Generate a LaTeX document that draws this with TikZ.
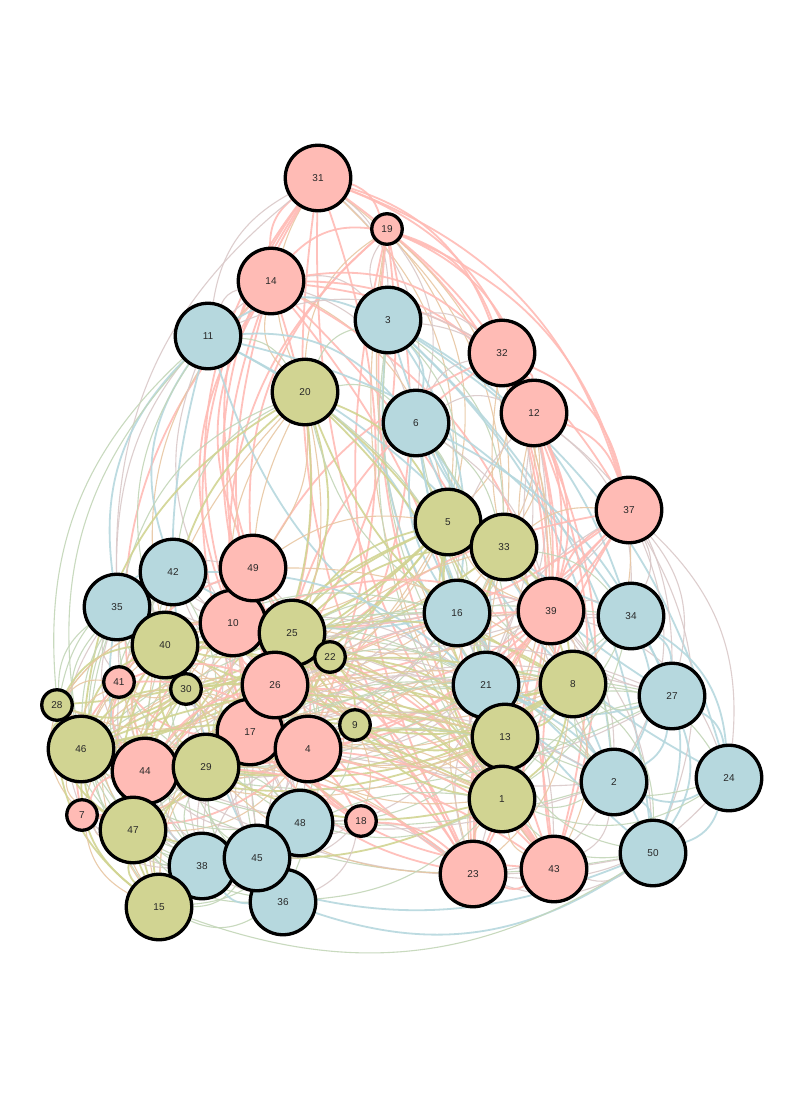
\documentclass[tikz,border=0pt]{standalone}
\usepackage{fontspec}
\newfontfamily\labfont{Liberation Sans}
\usetikzlibrary{backgrounds}
\definecolor{pk}{RGB}{255,187,181}
\definecolor{bl}{RGB}{182,216,222}
\definecolor{ol}{RGB}{209,212,146}
\definecolor{txt}{RGB}{40,40,40}
\tikzset{
  vtx/.style={circle, draw=black, line width=3.3pt, text=txt,
    font=\labfont\fontsize{10}{11}\selectfont, inner sep=0pt},
  bignode/.style={vtx, minimum size=65.5pt},
  smallnode/.style={vtx, minimum size=30.5pt},
  linkline/.style={draw opacity=0.9},
}
\newcommand\V[5]{%
  \node[#5, fill=#4] (n#1) at (#2,#3) {#1};%
  \expandafter\xdef\csname px#1\endcsname{#2}%
  \expandafter\xdef\csname py#1\endcsname{#3}%
  \expandafter\xdef\csname gp#1\endcsname{#4}%
}
\newcommand\E[2]{%
  \edef\exa{\csname px#1\endcsname}\edef\eya{\csname py#1\endcsname}%
  \edef\exb{\csname px#2\endcsname}\edef\eyb{\csname py#2\endcsname}%
  \pgfmathsetmacro\crs{(\exb-\exa)/100*((\eya+\eyb)/2-650)/100-(\eyb-\eya)/100*((\exa+\exb)/2-400)/100}%
  \pgfmathsetmacro\mdist{sqrt((((\exa+\exb)/2-400)/100)^2+(((\eya+\eyb)/2-650)/100)^2)}%
  \edef\ega{\csname gp#1\endcsname}\edef\egb{\csname gp#2\endcsname}%
  \ifx\ega\egb\def\elw{1.8pt}\else\def\elw{1.1pt}\fi
  \ifdim\mdist pt>2.2pt
    \ifdim\crs pt<0pt \def\bang{26}\else\def\bang{-26}\fi
  \else
    \ifodd\numexpr#1+#2\relax \def\bang{20}\else\def\bang{-20}\fi
  \fi
  \draw[linkline, line width=\elw, draw=\ega!50!\egb] (n#1) to[bend left=\bang] (n#2);%
}
\newcommand\EE[2]{\foreach \tg in {#2}{\E{#1}{\tg}}}
\begin{document}
\begin{tikzpicture}[x=1pt,y=-1pt]
\useasboundingbox (0,0) rectangle (789,1116);
% nodes (drawing order sets overlaps)
\V{31}{318}{178}{pk}{bignode}
\V{19}{387}{229}{pk}{smallnode}
\V{14}{271}{281}{pk}{bignode}
\V{11}{208}{336}{bl}{bignode}
\V{3}{388}{320}{bl}{bignode}
\V{32}{502}{353}{pk}{bignode}
\V{20}{305}{392}{ol}{bignode}
\V{12}{534}{413}{pk}{bignode}
\V{6}{416}{423}{bl}{bignode}
\V{37}{629}{510}{pk}{bignode}
\V{5}{448}{522}{ol}{bignode}
\V{33}{504}{547}{ol}{bignode}
\V{16}{457}{613}{bl}{bignode}
\V{39}{551}{611}{pk}{bignode}
\V{34}{631}{616}{bl}{bignode}
\V{8}{573}{684}{ol}{bignode}
\V{27}{672}{696}{bl}{bignode}
\V{2}{614}{782}{bl}{bignode}
\V{24}{729}{778}{bl}{bignode}
\V{50}{653}{853}{bl}{bignode}
\V{23}{473}{874}{pk}{bignode}
\V{43}{554}{869}{pk}{bignode}
\V{21}{486}{685}{bl}{bignode}
\V{13}{505}{737}{ol}{bignode}
\V{1}{502}{799}{ol}{bignode}
\V{35}{117}{607}{bl}{bignode}
\V{42}{173}{572}{bl}{bignode}
\V{40}{165}{645}{ol}{bignode}
\V{41}{119}{682}{pk}{smallnode}
\V{30}{186}{689}{ol}{smallnode}
\V{28}{57}{705}{ol}{smallnode}
\V{10}{233}{623}{pk}{bignode}
\V{49}{253}{568}{pk}{bignode}
\V{25}{292}{633}{ol}{bignode}
\V{22}{330}{657}{ol}{smallnode}
\V{17}{250}{732}{pk}{bignode}
\V{26}{275}{685}{pk}{bignode}
\V{4}{308}{749}{pk}{bignode}
\V{9}{355}{725}{ol}{smallnode}
\V{46}{81}{749}{ol}{bignode}
\V{44}{145}{771}{pk}{bignode}
\V{29}{206}{767}{ol}{bignode}
\V{47}{133}{830}{ol}{bignode}
\V{7}{82}{815}{pk}{smallnode}
\V{38}{202}{866}{bl}{bignode}
\V{36}{283}{902}{bl}{bignode}
\V{48}{300}{823}{bl}{bignode}
\V{45}{257}{858}{bl}{bignode}
\V{15}{159}{907}{ol}{bignode}
\V{18}{361}{821}{pk}{smallnode}
\begin{pgfonlayer}{background}
\fill[white] (0,0) rectangle (789,1116);
\EE{31}{19,14,3,32,12,37,6,20,11,35,5,33,10,49,39,23,43,17,26,4}
\EE{19}{14,3,32,12,37,6,5,33,20,49,10,26,4,1,13,23,43,39}
\EE{14}{3,11,20,32,12,6,49,10,26,17,44,4,5,37,39,23,43,35,40}
\EE{11}{3,20,6,28,35,42,40,46,10,16,21,2,34,45,32}
\EE{3}{32,12,6,20,5,33,16,21,2,13,1,24,50,34,27}
\EE{32}{12,37,6,5,33,39,8,21,13,1,23,43,26,10}
\EE{12}{37,6,33,39,34,16,8,27,21,23,43,2}
\EE{20}{6,5,49,42,35,40,10,25,26,17,29,46,44,13,1,16,21,8}
\EE{6}{5,33,16,21,39,34,8,13,2,50,27,24}
\EE{37}{33,39,34,27,24,8,2,21,16,4,17,26,10,23,43,50}
\EE{5}{33,16,21,39,8,13,1,49,10,25,26,40,46,44,29,47,30,28}
\EE{33}{39,16,21,8,34,13,1,2,23,43,17,4,26,10,25,40}
\EE{49}{42,10,25,26,17,4,35,40,30,41,44,29,23,1,13,21,8}
\EE{42}{35,40,10,26,17,44,29,46,28,47,21,16,41,30}
\EE{35}{40,41,28,46,44,47,10,26,29,7,38,15,30,17}
\EE{10}{25,26,17,4,44,29,40,30,41,46,28,47,38,45,48,36,15,22,9,18,21,13,23,1,43,8,39}
\EE{25}{22,26,17,4,9,29,44,46,48,45,36,21,13,1,16,8,30,40,39,2}
\EE{16}{21,13,8,39,1,2,23,43,4,17,26,44,29,46,40,22}
\EE{39}{8,34,27,21,13,2,1,23,43,50,24,17,4,26,29,44}
\EE{34}{8,27,24,2,50,21,13,1,44,29,46,4}
\EE{40}{41,30,28,46,44,29,17,26,7,47,38,15,45,36,48,4,8,21,13,1,9}
\EE{22}{26,17,4,9,29,44,13,1,21,8}
\EE{41}{30,28,46,44,29,47,17,26,4,7,15,38}
\EE{30}{26,17,46,44,29,47,4,9,15,38,28,7}
\EE{26}{17,4,9,44,29,46,47,38,45,48,36,15,18,21,13,1,23,43,8,2,27}
\EE{21}{13,8,1,2,23,43,27,50,44,46,17,4,29,47,9,18}
\EE{8}{27,2,24,50,13,1,23,43,46,44,17,29,4,9}
\EE{27}{2,24,50,13,1,46,29,4,17}
\EE{28}{46,44,7,47,29,17,15,38,26,10,4}
\EE{9}{17,4,48,18,29,44,1,13,46}
\EE{17}{4,46,44,29,47,7,38,45,48,36,15,18,13,1,23,43,2}
\EE{13}{1,2,23,43,50,24,44,29,46,47,4,48}
\EE{4}{46,44,29,47,48,45,38,36,15,18,1,23,43,7}
\EE{46}{44,29,7,47,38,15,45,36,48,1,23,2,50,13,8}
\EE{44}{29,7,47,38,15,45,36,48,1,23,43,50,2,13}
\EE{29}{47,38,45,36,15,48,18,1,23,2,7}
\EE{2}{24,50,1,23,43}
\EE{24}{50,1,23}
\EE{1}{23,43,50,48,45,36}
\EE{7}{47,15,38,45}
\EE{47}{38,15,45,36,48,1}
\EE{48}{18,45,36,38,15,23}
\EE{18}{45,36,23}
\EE{45}{38,36,15}
\EE{38}{15,36,50}
\EE{50}{23,43,36}
\EE{15}{36,50}
\EE{23}{43}
\end{pgfonlayer}
\end{tikzpicture}
\end{document}
